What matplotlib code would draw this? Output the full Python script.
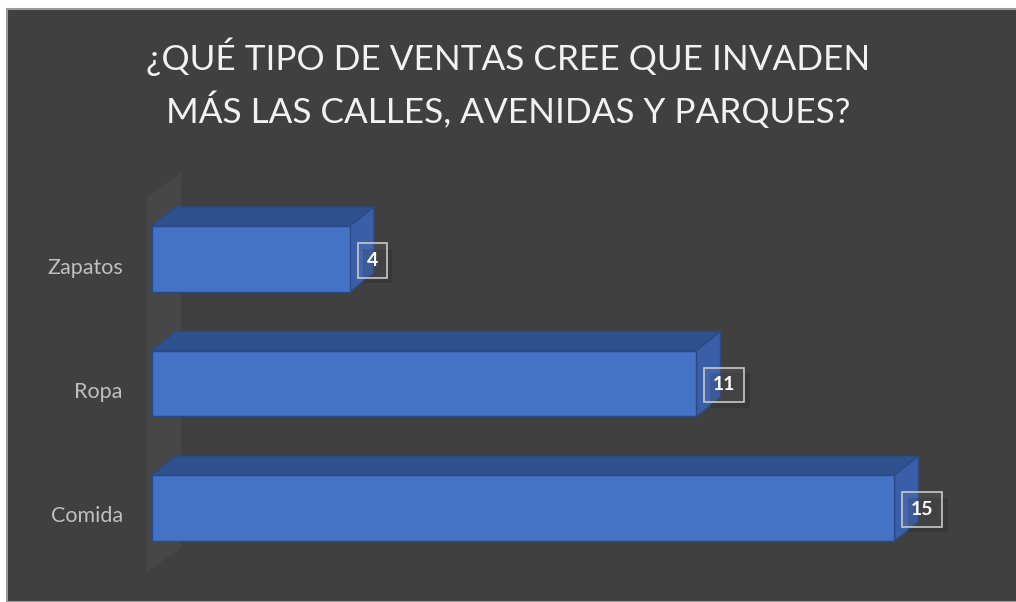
import matplotlib
matplotlib.use("Agg")
import matplotlib.pyplot as plt
from matplotlib.patches import Polygon, Rectangle
from matplotlib.transforms import ScaledTranslation
import matplotlib.patheffects as pe

categories = ["Comida", "Ropa", "Zapatos"]
values = [15, 11, 4]
title = "¿QUÉ TIPO DE VENTAS CREE QUE INVADEN\nMÁS LAS CALLES, AVENIDAS Y PARQUES?"

bg = "#404040"
front = "#4472c4"
top_c = "#2f528f"
side_c = "#3a5ea8"
edge = "#2b4a85"

plt.rcParams["font.family"] = ["Lato", "DejaVu Sans"]

fig = plt.figure(figsize=(10.16, 6.02), dpi=100)
fig.patch.set_facecolor("white")
fig.patches.append(Rectangle((7 / 1016, 0), 1, (602 - 9) / 602, transform=fig.transFigure,
                             facecolor=bg, edgecolor="#9a9a9a", linewidth=1.5, zorder=-5))

# axes: x 0..17 -> 152..993 px, y -0.5..2.5 -> 570..197 px
ax = fig.add_axes([152 / 1016, 31.75 / 602, 841.5 / 1016, 373.5 / 602])
ax.set_xlim(0, 17)
ax.set_ylim(-0.5, 2.5)
ax.patch.set_alpha(0)
for s in ax.spines.values():
    s.set_visible(False)
ax.set_xticks([])

h = 0.53
dx, dy = 24 / 49.5, 19 / 124.5

# side wall
ax.add_patch(Polygon([(-0.12, -0.52), (-0.12, 2.49), (0.59, 2.69), (0.59, -0.32)],
                     closed=True, facecolor="#484747", edgecolor="none", clip_on=False, zorder=1))

ypos = list(range(len(categories)))
for y, v in zip(ypos, values):
    t, b = y + h / 2, y - h / 2
    ax.add_patch(Polygon([(0, t), (v, t), (v + dx, t + dy), (dx, t + dy)], closed=True,
                         facecolor=top_c, edgecolor=edge, lw=1, clip_on=False, zorder=2))
    ax.add_patch(Polygon([(v, b), (v, t), (v + dx, t + dy), (v + dx, b + dy)], closed=True,
                         facecolor=side_c, edgecolor=edge, lw=1, clip_on=False, zorder=2))
ax.barh(ypos, values, height=h, color=front, edgecolor=edge, linewidth=1, zorder=3)

for y, v in zip(ypos, values):
    t = ax.annotate(str(v), (v, y), xytext=(12, -1), textcoords="offset points",
                    ha="left", va="center", color="white", fontsize=14, fontweight="bold",
                    zorder=5, annotation_clip=False,
                    bbox=dict(boxstyle="square,pad=0.45", facecolor=(1, 1, 1, 0.05),
                              edgecolor="#c8c8c8", linewidth=1.2))
    t.get_bbox_patch().set_path_effects([
        pe.SimplePatchShadow(offset=(4, -4), shadow_rgbFace="black", alpha=0.12),
        pe.Normal()])

ax.set_yticks(ypos)
ax.set_yticklabels(categories, color="#bfbfbf", fontsize=15.5)
ax.tick_params(axis="y", length=0, pad=21)
for lbl in ax.get_yticklabels():
    lbl.set_transform(lbl.get_transform() + ScaledTranslation(0, -0.065, fig.dpi_scale_trans))

fig.text(0.5, 1 - 83 / 602, title, ha="center", va="center", color="#f2f2f2",
         fontsize=25.3, linespacing=1.5)

fig.savefig("out.png", dpi=100, facecolor=fig.get_facecolor())
